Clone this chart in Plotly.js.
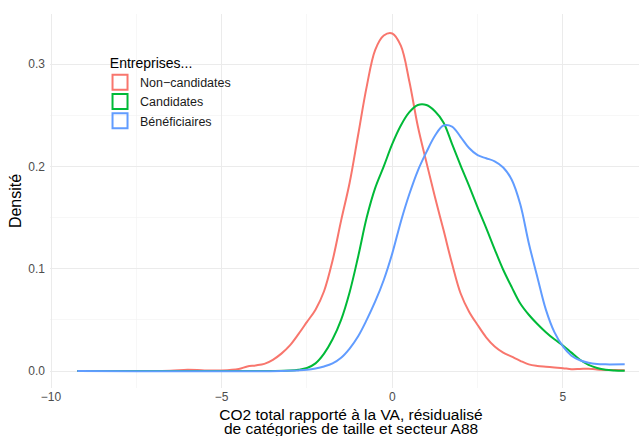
<!DOCTYPE html>
<html>
<head>
<meta charset="utf-8">
<script src="https://cdn.plot.ly/plotly-3.0.1.min.js"></script>
<style>html,body{margin:0;padding:0;background:#fff;overflow:hidden;}#chart{width:652px;height:436px;}</style>
</head>
<body>
<div id="chart"></div>
<script>
// Series names (legend labels)
const seriesNames = ["Non\u2212candidates", "Candidates", "Bénéficiaires"];
const seriesColors = ["#F8766D", "#00BA38", "#619CFF"];
const xTitleLines = ["CO2 total rapporté à la VA, résidualisé", "de catégories de taille et secteur A88"];

// Non-candidates density
const nonCandX = [-9.23, -7.5, -6.5, -6.0, -5.5, -5.0, -4.5, -4.25, -4.0, -3.75, -3.5, -3.25, -3.0, -2.75, -2.5, -2.25, -2.0, -1.75, -1.5, -1.25, -1.0, -0.75, -0.5, -0.25, 0.0, 0.25, 0.5, 0.75, 1.0, 1.25, 1.5, 1.75, 2.0, 2.25, 2.5, 2.75, 3.0, 3.25, 3.5, 3.75, 4.0, 4.25, 4.5, 4.75, 5.0, 5.25, 5.5, 5.75, 6.0, 6.5, 6.81];
const nonCandY = [0, 0, 0.0002, 0.0012, 0.0006, 0.0006, 0.002, 0.0045, 0.0055, 0.007, 0.011, 0.017, 0.025, 0.036, 0.048, 0.060, 0.078, 0.108, 0.147, 0.184, 0.231, 0.278, 0.314, 0.328, 0.330, 0.318, 0.283, 0.239, 0.204, 0.170, 0.138, 0.105, 0.076, 0.058, 0.045, 0.033, 0.024, 0.018, 0.014, 0.010, 0.0065, 0.005, 0.0042, 0.0035, 0.0028, 0.0018, 0.002, 0.0023, 0.0015, 0.0009, 0.0007];

// Candidates density
const candX = [-9.23, -3.5, -3.0, -2.75, -2.5, -2.25, -2.0, -1.75, -1.5, -1.25, -1.0, -0.75, -0.5, -0.25, 0.0, 0.25, 0.5, 0.75, 1.0, 1.25, 1.5, 1.75, 2.0, 2.25, 2.5, 2.75, 3.0, 3.25, 3.5, 3.75, 4.0, 4.25, 4.5, 4.75, 5.0, 5.25, 5.5, 5.75, 6.0, 6.25, 6.5, 6.81];
const candY = [0, 0, 0.0004, 0.0012, 0.003, 0.0075, 0.017, 0.031, 0.050, 0.077, 0.112, 0.150, 0.179, 0.200, 0.222, 0.240, 0.253, 0.260, 0.260, 0.254, 0.243, 0.222, 0.201, 0.181, 0.160, 0.140, 0.119, 0.099, 0.082, 0.066, 0.055, 0.046, 0.038, 0.031, 0.025, 0.018, 0.011, 0.006, 0.003, 0.0012, 0.0005, 0.0002];

// Bénéficiaires density
const benefX = [-9.23, -3.25, -2.75, -2.5, -2.25, -2.0, -1.75, -1.5, -1.25, -1.0, -0.75, -0.5, -0.25, 0.0, 0.25, 0.5, 0.75, 1.0, 1.25, 1.5, 1.75, 2.0, 2.25, 2.5, 2.75, 3.0, 3.25, 3.5, 3.75, 4.0, 4.25, 4.5, 4.75, 5.0, 5.25, 5.5, 5.75, 6.0, 6.25, 6.81];
const benefY = [0, 0, 0.0006, 0.0012, 0.0025, 0.0045, 0.0075, 0.013, 0.022, 0.034, 0.050, 0.068, 0.089, 0.115, 0.146, 0.173, 0.196, 0.214, 0.230, 0.240, 0.239, 0.229, 0.218, 0.211, 0.208, 0.205, 0.199, 0.187, 0.163, 0.125, 0.092, 0.060, 0.038, 0.024, 0.015, 0.0105, 0.008, 0.0068, 0.0065, 0.0066];

const xTickVals = [-10, -5, 0, 5];
const yTickVals = [0, 0.1, 0.2, 0.3];

const xs = [nonCandX, candX, benefX];
const ys = [nonCandY, candY, benefY];

const traces = [];
for (let i = 0; i < 3; i++) {
  traces.push({
    x: xs[i], y: ys[i], type: 'scatter', mode: 'lines',
    line: {color: seriesColors[i], width: 2, shape: 'spline', smoothing: 1},
    showlegend: false, hoverinfo: 'skip'
  });
}
for (let i = 0; i < 3; i++) {
  traces.push({
    x: [null], y: [null], type: 'scatter', mode: 'markers', name: seriesNames[i],
    marker: {symbol: 'square-open', size: 15, color: seriesColors[i], line: {width: 2, color: seriesColors[i]}},
    showlegend: true
  });
}

const font = '"Liberation Sans", Arial, sans-serif';
const layout = {
  width: 652, height: 436,
  margin: {l: 50, r: 0, t: 14, b: 48},
  paper_bgcolor: '#fff', plot_bgcolor: '#fff',
  font: {family: font, color: '#000'},
  showlegend: true,
  legend: {
    x: 0.0831, y: 0.905, xanchor: 'left', yanchor: 'top',
    bgcolor: 'rgba(0,0,0,0)',
    title: {text: '\u00a0\u00a0Entreprises...', font: {size: 14, color: '#000'}, side: 'top'},
    font: {size: 12.5, color: '#1a1a1a'},
    itemwidth: 30, tracegroupgap: 0
  },
  xaxis: {
    range: [-10.03, 7.61],
    tickvals: xTickVals,
    showline: false, zeroline: false,
    showgrid: true, gridcolor: '#ebebeb', gridwidth: 1,
    minor: {dtick: 2.5, tick0: 0, showgrid: true, gridcolor: '#f2f2f2', gridwidth: 0.6},
    ticks: '', ticklabelstandoff: 0,
    tickfont: {size: 12, color: '#4d4d4d'},
    title: {text: xTitleLines[0], font: {size: 15.5, color: '#000'}, standoff: 5.5}
  },
  yaxis: {
    range: [-0.0166, 0.349],
    tickvals: yTickVals, tickformat: '.1f',
    showline: false, zeroline: false,
    showgrid: true, gridcolor: '#ebebeb', gridwidth: 1,
    minor: {dtick: 0.05, tick0: 0, showgrid: true, gridcolor: '#f2f2f2', gridwidth: 0.6},
    ticks: '', ticklabelstandoff: 4,
    tickfont: {size: 12, color: '#4d4d4d'},
    title: {text: 'Densité', font: {size: 16, color: '#000'}, standoff: 2}
  },
  annotations: [{
    text: xTitleLines[1], xref: 'paper', yref: 'paper', x: 0.5, y: -0.1096,
    xanchor: 'center', yanchor: 'middle', showarrow: false,
    font: {size: 15.5, color: '#000'}
  }]
};

Plotly.newPlot('chart', traces, layout, {displayModeBar: false, staticPlot: true});
</script>
</body>
</html>
